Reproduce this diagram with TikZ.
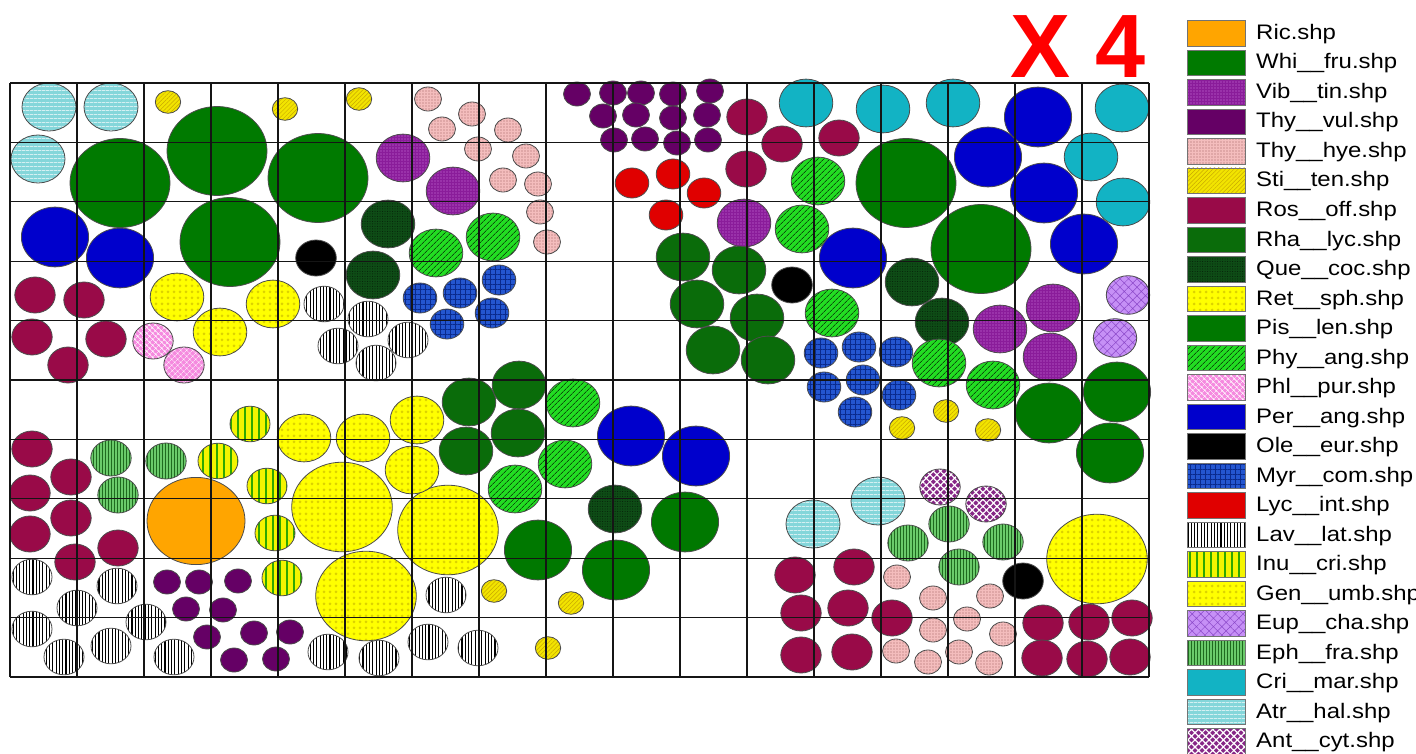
\documentclass[tikz,border=0pt]{standalone}
\usepackage{fontspec}
\setmainfont{Liberation Sans}
\usepackage{xcolor}
\usepackage{tikz}
\usetikzlibrary{patterns.meta}
\definecolor{ink}{HTML}{151515}
\definecolor{ric}{HTML}{FFA500}
\definecolor{whi}{HTML}{007A00}
\definecolor{vib}{HTML}{8A1C9A}
\definecolor{vibdot}{HTML}{D27EE0}
\definecolor{thyv}{HTML}{650065}
\definecolor{thyh}{HTML}{F4BDBD}
\definecolor{thyhdot}{HTML}{A06060}
\definecolor{sti}{HTML}{F2E400}
\definecolor{stiline}{HTML}{C8A800}
\definecolor{ros}{HTML}{990A48}
\definecolor{rha}{HTML}{0A6C0A}
\definecolor{que}{HTML}{0E4C16}
\definecolor{ret}{HTML}{FFFF00}
\definecolor{retring}{HTML}{DCD200}
\definecolor{pis}{HTML}{007800}
\definecolor{phy}{HTML}{22DD22}
\definecolor{phl}{HTML}{F58ADF}
\definecolor{per}{HTML}{0000CC}
\definecolor{myr}{HTML}{2456D0}
\definecolor{myrline}{HTML}{0A2A8C}
\definecolor{lyc}{HTML}{E00000}
\definecolor{inu}{HTML}{F4F400}
\definecolor{inuline}{HTML}{2EA800}
\definecolor{eup}{HTML}{C690F6}
\definecolor{eupline}{HTML}{8A48C8}
\definecolor{eph}{HTML}{6ACA6A}
\definecolor{ephline}{HTML}{1E6A1E}
\definecolor{cri}{HTML}{12B3C4}
\definecolor{atr}{HTML}{84D6DA}
\definecolor{ant}{HTML}{862686}
\definecolor{mark}{HTML}{FF0000}

\tikzset{
  plant/.style={draw=black!70, line width=0.8pt},
  ricsp/.style={plant, fill=ric},
  whisp/.style={plant, fill=whi},
  vibsp/.style={plant, preaction={fill=vib}, pattern={Dots[distance=3pt,radius=0.6pt]}, pattern color=vibdot},
  thyvsp/.style={plant, fill=thyv},
  thyhsp/.style={plant, preaction={fill=thyh}, pattern={Dots[distance=3pt,radius=0.55pt]}, pattern color=thyhdot},
  stisp/.style={plant, preaction={fill=sti}, pattern={Lines[angle=45,distance=3pt,line width=0.5pt]}, pattern color=stiline},
  rossp/.style={plant, fill=ros},
  rhasp/.style={plant, fill=rha},
  quesp/.style={plant, preaction={fill=que}, pattern={Dots[distance=2.5pt,radius=0.5pt]}, pattern color=black!60!que},
  retsp/.style={plant, preaction={fill=ret}, pattern={Dots[distance=6pt,radius=1.5pt]}, pattern color=retring},
  pissp/.style={plant, fill=pis},
  physp/.style={plant, preaction={fill=phy}, pattern={Lines[angle=45,distance=4pt,line width=0.6pt]}, pattern color=black},
  phlsp/.style={plant, preaction={fill=phl}, pattern={Hatch[angle=45,distance=4pt,line width=0.45pt]}, pattern color=white},
  persp/.style={plant, fill=per},
  olesp/.style={plant, fill=black},
  myrsp/.style={plant, preaction={fill=myr}, pattern={Hatch[angle=0,distance=5pt,line width=0.8pt]}, pattern color=myrline},
  lycsp/.style={plant, fill=lyc},
  lavsp/.style={plant, preaction={fill=white}, pattern={Lines[angle=90,distance=3.3pt,line width=1.1pt]}, pattern color=black},
  inusp/.style={plant, preaction={fill=inu}, pattern={Lines[angle=90,distance=7pt,line width=2.2pt]}, pattern color=inuline},
  gensp/.style={retsp},
  eupsp/.style={plant, preaction={fill=eup}, pattern={Hatch[angle=45,distance=6pt,line width=0.5pt]}, pattern color=eupline},
  ephsp/.style={plant, preaction={fill=eph}, pattern={Lines[angle=90,distance=3pt,line width=0.6pt]}, pattern color=ephline},
  crisp/.style={plant, fill=cri},
  atrsp/.style={plant, preaction={fill=atr}, pattern={Lines[angle=0,distance=4pt,line width=0.5pt]}, pattern color=white},
  antsp/.style={plant, preaction={fill=ant}, pattern={Hatch[angle=45,distance=5pt,line width=1.2pt]}, pattern color=white},
  gridline/.style={draw=ink, line width=1.3pt},
  lbl/.style={anchor=base west, inner sep=0pt, xscale=1.14, font=\fontsize{21}{24}\selectfont},
}

\begin{document}
\begin{tikzpicture}[x=1pt, y=-1pt]
  \path[use as bounding box, fill=white] (0,0) rectangle (1416,754);

  % large shrubs
  \foreach \x/\y in {120/183, 217/151, 230/242, 318/178, 906/183, 981/249}
    \draw[whisp] (\x,\y) ellipse[x radius=50pt, y radius=44.5pt];
  \foreach \x/\y in {342/507, 448/530, 366/596, 1097/559}
    \draw[gensp] (\x,\y) ellipse[x radius=50.3pt, y radius=44.8pt];
  \draw[ricsp] (196,521) ellipse[x radius=49pt, y radius=43.6pt];
  \foreach \x/\y in {55/237, 120/258, 1038/117, 988/157, 1044/193, 1084/244, 853/258, 631/436, 696/456}
    \draw[persp] (\x,\y) ellipse[x radius=33.6pt, y radius=29.9pt];
  \foreach \x/\y in {1049/413, 1117/392, 1110/453, 685/522, 616/570, 538/550}
    \draw[pissp] (\x,\y) ellipse[x radius=33.6pt, y radius=29.9pt];

  % medium shrubs
  \foreach \x/\y in {49/107, 111/107, 38/159, 813/524, 878/501}
    \draw[atrsp] (\x,\y) ellipse[x radius=27pt, y radius=24pt];
  \foreach \x/\y in {806/103, 883/109, 953/103, 1122/108, 1091/157, 1123/202}
    \draw[crisp] (\x,\y) ellipse[x radius=26.8pt, y radius=23.9pt];
  \foreach \x/\y in {403/158, 453/191, 744/223, 1000/329, 1053/308, 1050/357}
    \draw[vibsp] (\x,\y) ellipse[x radius=26.8pt, y radius=23.9pt];
  \foreach \x/\y in {388/224, 373/275, 912/282, 942/322, 615/509}
    \draw[quesp] (\x,\y) ellipse[x radius=26.8pt, y radius=23.9pt];
  \foreach \x/\y in {683/257, 739/270, 697/304, 757/318, 713/350, 768/360, 469/402, 519/385, 466/451, 518/433}
    \draw[rhasp] (\x,\y) ellipse[x radius=26.8pt, y radius=23.9pt];
  \foreach \x/\y in {436/253, 493/237, 818/181, 802/229, 832/313, 939/363, 993/385, 573/403, 565/464, 515/489}
    \draw[physp] (\x,\y) ellipse[x radius=26.8pt, y radius=23.9pt];
  \foreach \x/\y in {177/297, 273/304, 220/332, 304/438, 363/438, 417/420, 412/470}
    \draw[retsp] (\x,\y) ellipse[x radius=26.8pt, y radius=23.9pt];
  \foreach \x/\y in {1128/295, 1115/338}
    \draw[eupsp] (\x,\y) ellipse[x radius=21.7pt, y radius=19.3pt];

  % small shrubs
  \foreach \x/\y in {35/295, 84/300, 32/337, 106/339, 68/365, 747/117, 782/144, 746/169, 839/138,
                     32/449, 71/477, 30/493, 71/518, 30/534, 118/548, 75/562,
                     795/575, 854/567, 801/613, 848/608, 801/655, 852/652, 892/618,
                     1043/623, 1089/622, 1132/618, 1042/658, 1087/659, 1130/657}
    \draw[rossp] (\x,\y) ellipse[x radius=20.2pt, y radius=18pt];
  \foreach \x/\y in {324/304, 368/319, 338/346, 408/340, 376/363, 446/595, 328/652, 379/658, 428/642, 478/648,
                     32/577, 117/586, 77/608, 146/622, 32/629, 64/657, 111/646, 174/657}
    \draw[lavsp] (\x,\y) ellipse[x radius=20pt, y radius=17.8pt];
  \foreach \x/\y in {316/258, 792/285, 1023/581}
    \draw[olesp] (\x,\y) ellipse[x radius=20.3pt, y radius=18pt];
  \foreach \x/\y in {153/341, 184/365}
    \draw[phlsp] (\x,\y) ellipse[x radius=20.2pt, y radius=18pt];
  \foreach \x/\y in {250/424, 218/461, 267/486, 275/533, 282/578}
    \draw[inusp] (\x,\y) ellipse[x radius=20pt, y radius=17.8pt];
  \foreach \x/\y in {111/458, 166/461, 118/495, 949/524, 908/543, 1003/542, 959/567}
    \draw[ephsp] (\x,\y) ellipse[x radius=20.2pt, y radius=18pt];
  \foreach \x/\y in {940/487, 986/504}
    \draw[antsp] (\x,\y) ellipse[x radius=20.2pt, y radius=18pt];
  \foreach \x/\y in {420/298, 460/293, 499/280, 492/313, 447/324,
                     821/353, 859/347, 896/352, 824/387, 863/380, 899/395, 855/412}
    \draw[myrsp] (\x,\y) ellipse[x radius=16.8pt, y radius=15pt];
  \foreach \x/\y in {632/183, 673/174, 704/193, 666/215}
    \draw[lycsp] (\x,\y) ellipse[x radius=16.8pt, y radius=15pt];
  \foreach \x/\y in {428/99, 472/114, 442/129, 508/130, 478/149, 526/156, 503/180, 538/184, 540/212, 547/242,
                     897/577, 933/598, 990/596, 967/619, 933/630, 1003/634, 896/651, 959/652, 928/662, 989/663}
    \draw[thyhsp] (\x,\y) ellipse[x radius=13.5pt, y radius=12pt];
  \foreach \x/\y in {577/94, 613/93, 641/93, 673/94, 710/91, 603/116, 636/115, 673/118, 707/115,
                     614/140, 645/139, 677/143, 708/140,
                     167/582, 199/582, 238/581, 186/609, 223/610, 207/637, 254/633, 290/632, 234/660, 276/659}
    \draw[thyvsp] (\x,\y) ellipse[x radius=13.5pt, y radius=12pt];
  \foreach \x/\y in {168/102, 285/109, 359/99, 946/411, 902/428, 988/430, 494/591, 571/603, 548/648}
    \draw[stisp] (\x,\y) ellipse[x radius=12.7pt, y radius=11.3pt];

  % plot grid
  \foreach \i in {0,...,17}
    \draw[gridline] (10+67*\i,83) -- (10+67*\i,677);
  \foreach \j in {0,...,10}
    \draw[gridline] (10,83+59.4*\j) -- (1149,83+59.4*\j);

  % multiplier
  \node (mult) [anchor=base west, inner sep=0pt, text=mark, font=\fontsize{90}{90}\selectfont\bfseries] at (1010,78) {X 4};

  % legend
  \foreach \st/\txt [count=\i from 0] in {ricsp/Ric.shp, whisp/Whi\_\_fru.shp, vibsp/Vib\_\_tin.shp,
      thyvsp/Thy\_\_vul.shp, thyhsp/Thy\_\_hye.shp, stisp/Sti\_\_ten.shp, rossp/Ros\_\_off.shp,
      rhasp/Rha\_\_lyc.shp, quesp/Que\_\_coc.shp, retsp/Ret\_\_sph.shp, pissp/Pis\_\_len.shp,
      physp/Phy\_\_ang.shp, phlsp/Phl\_\_pur.shp, persp/Per\_\_ang.shp, olesp/Ole\_\_eur.shp,
      myrsp/Myr\_\_com.shp, lycsp/Lyc\_\_int.shp, lavsp/Lav\_\_lat.shp, inusp/Inu\_\_cri.shp,
      gensp/Gen\_\_umb.shp, eupsp/Eup\_\_cha.shp, ephsp/Eph\_\_fra.shp, crisp/Cri\_\_mar.shp,
      atrsp/Atr\_\_hal.shp, antsp/Ant\_\_cyt.shp} {
    \draw[\st, draw=black!55] (1187,20.5+29.5*\i) rectangle (1245,46+29.5*\i);
    \node (lg\i) [lbl] at (1256,39.5+29.5*\i) {\txt};
  }
\end{tikzpicture}
\end{document}
